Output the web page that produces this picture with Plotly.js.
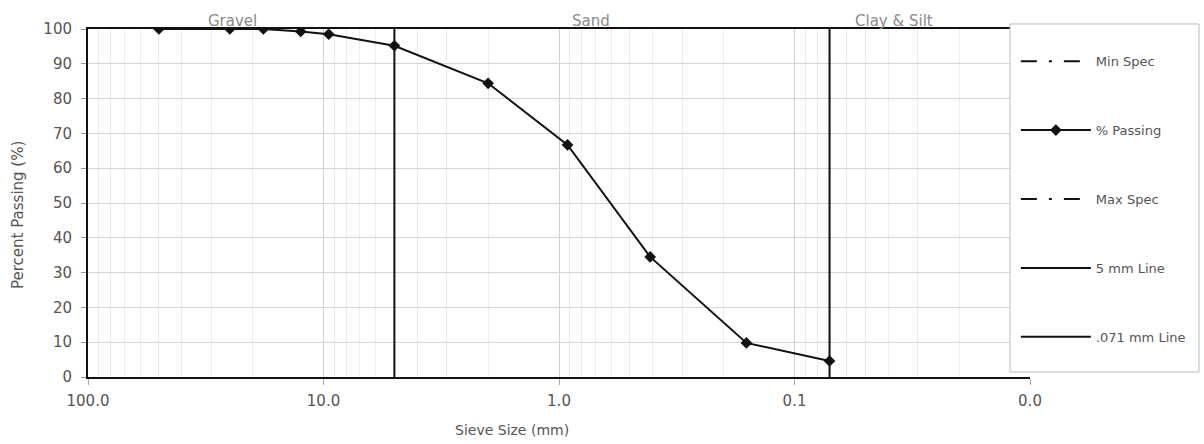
<!DOCTYPE html>
<html>
<head>
<meta charset="utf-8">
<script src="https://cdn.plot.ly/plotly-3.0.1.min.js"></script>
<style>
  html, body { margin: 0; padding: 0; background: #fff; }
  #chart { width: 1204px; height: 444px; }
</style>
</head>
<body>
<div id="chart"></div>
<script>
// Sieve analysis data
const sieveSize = [50, 25, 18, 12.5, 9.5, 5, 2.0, 0.92, 0.41, 0.16, 0.071];
const percentPassing = [100, 100, 100, 99.3, 98.5, 95.2, 84.4, 66.7, 34.5, 9.8, 4.6];

// Spec envelopes (no values plotted in the reference)
const minSpecX = [null];
const minSpecY = [null];
const maxSpecX = [null];
const maxSpecY = [null];

// Reference lines
const fiveMmX = [5, 5];
const fiveMmY = [0, 100];
const line071X = [0.071, 0.071];
const line071Y = [0, 100];

// Axis ticks
const xTickVals = [100, 10, 1, 0.1, 0.01];
const xTickText = ['100.0', '10.0', '1.0', '0.1', '0.0'];
const yTickVals = [0, 10, 20, 30, 40, 50, 60, 70, 80, 90, 100];

// Zone labels
const zoneLabels = ['Gravel', 'Sand', 'Clay & Silt'];
const zonePos = [0.153, 0.534, 0.856];

const FONT = 'DejaVu Sans, Liberation Sans, sans-serif';
const TXT = '#555';
const SPEC_DASH = '16px,12px,3px,12px';

const traces = [
  { x: minSpecX, y: minSpecY, name: 'Min Spec', mode: 'lines', legendgroup: 'a',
    line: { color: '#111', width: 2, dash: SPEC_DASH } },
  { x: sieveSize, y: percentPassing, name: '% Passing', mode: 'lines+markers', legendgroup: 'b',
    line: { color: '#111', width: 2 },
    marker: { symbol: 'diamond', size: 9, color: '#111' } },
  { x: maxSpecX, y: maxSpecY, name: 'Max Spec', mode: 'lines', legendgroup: 'c',
    line: { color: '#111', width: 2, dash: SPEC_DASH } },
  { x: fiveMmX, y: fiveMmY, name: '5 mm Line', mode: 'lines', legendgroup: 'd',
    line: { color: '#111', width: 2 } },
  { x: line071X, y: line071Y, name: '.071 mm Line', mode: 'lines', legendgroup: 'e',
    line: { color: '#111', width: 2 } }
];

const annotations = zoneLabels.map((t, i) => ({
  text: t, xref: 'paper', yref: 'paper', x: zonePos[i], y: 1,
  xanchor: 'center', yanchor: 'bottom',
  showarrow: false, font: { family: FONT, size: 15, color: '#8a8a8a' }, yshift: -3
}));
annotations.push({
  text: 'Sieve Size (mm)', xref: 'paper', yref: 'paper', x: 0.45, y: -0.152,
  xanchor: 'center', yanchor: 'middle', showarrow: false,
  font: { family: FONT, size: 14, color: TXT }
});
annotations.push({
  text: 'Percent Passing (%)', xref: 'paper', yref: 'paper', x: -0.0743, y: 0.4655,
  xanchor: 'center', yanchor: 'middle', textangle: -90, showarrow: false,
  font: { family: FONT, size: 15, color: TXT }
});

const layout = {
  width: 1204, height: 444,
  margin: { l: 88, r: 174, t: 29, b: 67 },
  paper_bgcolor: '#fff', plot_bgcolor: '#fff',
  font: { family: FONT, size: 13, color: TXT },
  showlegend: true,
  legend: {
    x: 0.985, y: 1.014, xanchor: 'left', yanchor: 'top',
    bgcolor: 'rgba(0,0,0,0)', borderwidth: 0,
    font: { family: FONT, size: 13, color: TXT },
    itemwidth: 70, tracegroupgap: 49, maxheight: 420,
    title: { text: '\u00a0', font: { size: 17 } }
  },
  shapes: [{
    type: 'rect', xref: 'paper', yref: 'paper', layer: 'above',
    x0: 0.9788, x1: 1.1794, y0: 0.0144, y1: 1.0144,
    fillcolor: '#fff', line: { color: '#bbb', width: 1 }
  }],
  xaxis: {
    type: 'log', range: [2, -2],
    tickmode: 'array', tickvals: xTickVals, ticktext: xTickText,
    showline: true, linecolor: '#111', linewidth: 2, mirror: true,
    ticks: 'outside', ticklen: 6, tickcolor: '#aaa', ticklabelstandoff: 3,
    showgrid: true, gridcolor: '#cfcfcf', gridwidth: 1,
    zeroline: false,
    tickfont: { family: FONT, size: 15, color: TXT },
    minor: { tickmode: 'linear', dtick: 'D1', showgrid: true, gridcolor: '#ececec', gridwidth: 1, ticks: '' }
  },
  yaxis: {
    range: [0, 100], tickmode: 'array', tickvals: yTickVals,
    showline: true, linecolor: '#111', linewidth: 2,
    ticks: 'outside', ticklen: 5, tickcolor: '#999', ticklabelstandoff: 6,
    showgrid: true, gridcolor: '#dcd2d2', gridwidth: 1,
    zeroline: false,
    tickfont: { family: FONT, size: 15, color: TXT }
  },
  annotations: annotations
};

Plotly.newPlot('chart', traces, layout, { displayModeBar: false, responsive: false });
</script>
</body>
</html>
